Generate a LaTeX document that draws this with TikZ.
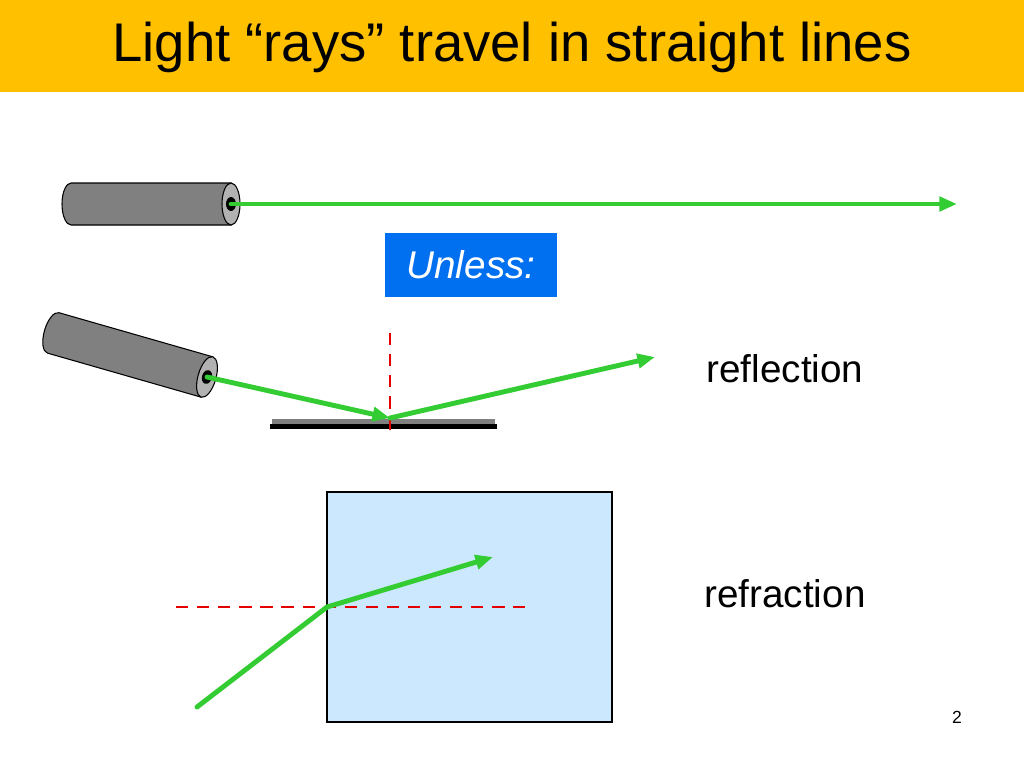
\documentclass[tikz,border=0pt]{standalone}
\usepackage{fontspec}
\setmainfont{Liberation Sans}
\usetikzlibrary{arrows.meta}
\definecolor{titlebar}{HTML}{FFC000}
\definecolor{unlessblue}{HTML}{0070F0}
\definecolor{glass}{HTML}{CCE8FF}
\definecolor{raygreen}{HTML}{33CC33}
\tikzset{
  ray/.style={raygreen, line width=2.8pt, line cap=round},
  rayend/.style={ray, -{Triangle[length=10pt,width=8pt]}},
  normal/.style={red!90!black, line width=1.4pt, dash pattern=on 7pt off 5pt},
  label/.style={font=\fontsize{22pt}{24pt}\selectfont},
}
% laser cylinder, end at origin, body to the left
\newcommand{\lasertube}{%
  \filldraw[fill=gray, draw=black, line width=0.6pt] (0,-21) -- (-160,-21) arc (90:270:9 and -21) -- (0,21) -- cycle;
  \filldraw[fill=gray!60, draw=black, line width=0.6pt] (0,0) ellipse (9 and 21);
  \fill[black] (0,0) ellipse (5 and 7);
}
\begin{document}
\begin{tikzpicture}[x=0.02cm,y=-0.02cm]
    \useasboundingbox (0,0) rectangle (1024,768);
    % title
    \fill[titlebar] (0,0) rectangle (1024,92);
    \node[font=\fontsize{31pt}{34pt}\selectfont] (title) at (512,47) {Light “rays” travel in straight lines};
    % straight ray
    \begin{scope}[shift={(231,204)}]
        \lasertube
    \end{scope}
    \coordinate (src1) at (231,204);
    \coordinate (end1) at (957,204);
    \draw[rayend] (src1) -- (end1);
    % unless
    \node[fill=unlessblue, text=white, font=\fontsize{22pt}{24pt}\selectfont\itshape, minimum width=172*0.02cm, minimum height=64*0.02cm, inner sep=0pt] (unless) at (471,265) {Unless:};
    % reflection
    \fill[gray] (272,419) rectangle (495,424);
    \fill[black] (270,424) rectangle (497,429);
    \begin{scope}[shift={(207,377)}, rotate=-16]
        \lasertube
    \end{scope}
    \coordinate (src2) at (207,377);
    \coordinate (hit2) at (390,418);
    \coordinate (end2) at (655,357);
    \coordinate (ntop) at (390,333);
    \coordinate (nbot) at (390,437);
    \draw[normal] (ntop) -- (nbot);
    \draw[rayend] (src2) -- (hit2);
    \draw[rayend] (hit2) -- (end2);
    \node[label] (refl) at (785,369) {reflection};
    % refraction
    \filldraw[fill=glass, draw=black, line width=0.6pt] (327,492) rectangle (612,722);
    \coordinate (nleft) at (176,607);
    \coordinate (nright) at (525,607);
    \draw[normal] (nleft) -- (nright);
    \coordinate (src3) at (197,707);
    \coordinate (hit3) at (327,607);
    \coordinate (end3) at (493,557);
    \draw[ray] (src3) -- (hit3);
    \draw[rayend] (hit3) -- (end3);
    \node[label] (refr) at (785,594) {refraction};
    % page number
    \node[font=\fontsize{10pt}{12pt}\selectfont] (page) at (957,717) {2};
\end{tikzpicture}
\end{document}
